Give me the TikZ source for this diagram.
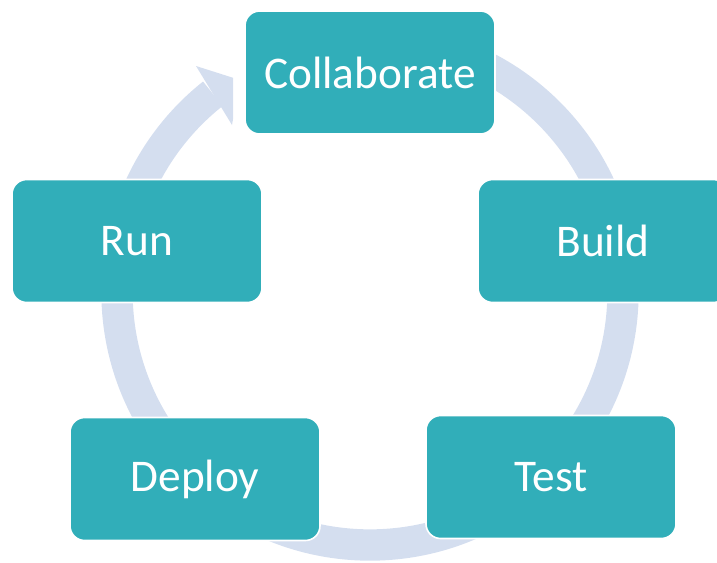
\documentclass[tikz,border=0pt]{standalone}
\usepackage{fontspec}
\setmainfont{Carlito}
\definecolor{stageteal}{RGB}{49, 174, 185}
\definecolor{ringblue}{RGB}{212, 222, 239}

\begin{document}
\begin{tikzpicture}[x=0.75pt, y=-0.75pt,
  stagebox/.style={draw=white, line width=1.2pt, fill=stageteal, rounded corners=11pt,
    minimum width=187.5pt, minimum height=92.25pt, inner sep=0pt,
    text=white, font=\fontsize{34}{40}\selectfont}]
  \useasboundingbox (0,0) rectangle (717,562);

  % Ring behind the stages
  \coordinate (hub) at (370,292);
  \draw[ringblue, line width=23.5pt] (hub) ++(-90:253) arc[start angle=-90, end angle=231.6, radius=253];
  \begin{scope}
    \clip (0,0) rectangle (233,562);
    \fill[ringblue] (196,66) -- (240,80) -- (232,125) -- cycle;
  \end{scope}

  % Stages
  \node[stagebox] (collab) at (370,72.5) {Collaborate};
  \node[stagebox] (build) at (603,241) {Build};
  \node[stagebox] (test) at (551,477) {Test};
  \node[stagebox] (deploy) at (195,479) {Deploy};
  \node[stagebox] (run) at (137,241) {Run};
\end{tikzpicture}
\end{document}
